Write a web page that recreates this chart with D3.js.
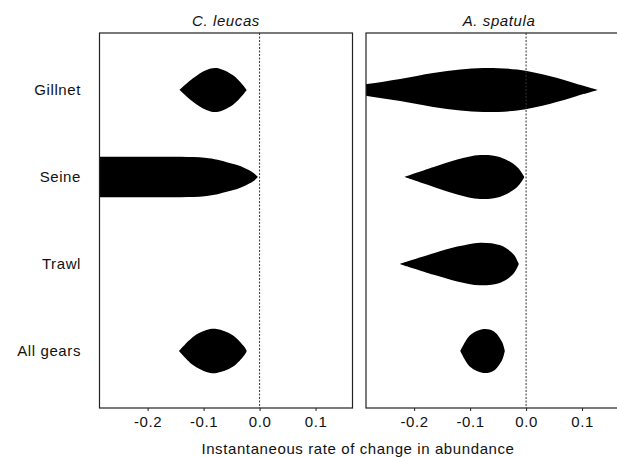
<!DOCTYPE html>
<html>
<head>
<meta charset="utf-8">
<script src="https://cdn.jsdelivr.net/npm/d3@7"></script>
<style>
body{margin:0;background:#fff}
svg{display:block}
text{font-family:"Liberation Sans",Arial,sans-serif;fill:#111;letter-spacing:0.6px}
</style>
</head>
<body>
<svg id="chart" width="617" height="457"></svg>
<script>
// categories and ticks
let gears=["Gillnet","Seine","Trawl","All gears"]
let species=["C. leucas","A. spatula"]
let xTicks=[-0.2,-0.1,0.0,0.1]

// profiles: [rate, relative width]
let leucasGillnet=[[-0.143,0],[-0.119,0.53],[-0.095,0.91],[-0.077,1.0],[-0.048,0.68],[-0.030,0.23],[-0.023,0]]
let leucasSeine=[[-0.34,0.92],[-0.2,0.92],[-0.14,0.915],[-0.098,0.87],[-0.075,0.78],[-0.057,0.66],[-0.04,0.54],[-0.027,0.41],[-0.012,0.21],[-0.003,0]]
let leucasTrawl=[]
let leucasAll=[[-0.144,0],[-0.119,0.64],[-0.095,0.95],[-0.077,1.0],[-0.048,0.72],[-0.027,0.18],[-0.023,0]]

let spatulaGillnet=[[-0.33,0.12],[-0.284,0.27],[-0.225,0.5],[-0.166,0.77],[-0.1175,0.93],[-0.076,1.0],[-0.016,0.93],[0.0435,0.62],[0.091,0.27],[0.128,0]]
let spatulaSeine=[[-0.217,0],[-0.165,0.45],[-0.123,0.79],[-0.082,1.0],[-0.046,0.9],[-0.016,0.46],[-0.003,0]]
let spatulaTrawl=[[-0.226,0],[-0.165,0.49],[-0.123,0.79],[-0.082,0.97],[-0.046,0.85],[-0.023,0.46],[-0.013,0]]
let spatulaAll=[[-0.1175,0],[-0.0996,0.73],[-0.076,1.0],[-0.058,0.9],[-0.043,0.42],[-0.038,0]]

let profiles={
"C. leucas":[leucasGillnet,leucasSeine,leucasTrawl,leucasAll],
"A. spatula":[spatulaGillnet,spatulaSeine,spatulaTrawl,spatulaAll]
}

let svg=d3.select("#chart")
let topY=33,bottomY=408
let panelW=253
let panelX=[99.5,366]
let titleX=[226,499]
let maxHalf=22
let fmt=d=>d3.format(".1f")(d).replace("\u2212","-")

let y=d3.scalePoint().domain(gears).range([topY,bottomY]).padding(0.655)

// gear labels
svg.selectAll(".glab").data(gears).enter().append("text")
.attr("class","glab")
.attr("x",81).attr("y",d=>y(d))
.attr("dy","0.35em")
.attr("text-anchor","end")
.attr("font-size",15)
.text(d=>d)

species.forEach((sp,i)=>{
let x=d3.scaleLinear().domain([-0.286,0.166]).range([panelX[i],panelX[i]+panelW])
let g=svg.append("g")

g.append("clipPath").attr("id","clip"+i)
.append("rect")
.attr("x",panelX[i]).attr("y",topY)
.attr("width",panelW).attr("height",bottomY-topY)

let area=d3.area()
.x(d=>x(d[0]))
.curve(d3.curveCatmullRom.alpha(0.5))

let shapes=g.append("g").attr("clip-path","url(#clip"+i+")")
profiles[sp].forEach((prof,j)=>{
if(prof.length===0) return
let yc=y(gears[j])
shapes.append("path")
.datum(prof)
.attr("d",area.y0(d=>yc-d[1]*maxHalf).y1(d=>yc+d[1]*maxHalf))
.attr("fill","#000")
})

// zero line
g.append("line")
.attr("x1",x(0)).attr("x2",x(0))
.attr("y1",topY).attr("y2",bottomY)
.attr("stroke","#333").attr("stroke-width",1)
.attr("stroke-dasharray","2,1.5")

// frame
g.append("rect")
.attr("x",panelX[i]).attr("y",topY)
.attr("width",panelW).attr("height",bottomY-topY)
.attr("fill","none").attr("stroke","#222").attr("stroke-width",1.2)

let axis=g.append("g")
.attr("transform","translate(0,"+bottomY+")")
.call(d3.axisBottom(x).tickValues(xTicks).tickSize(3).tickPadding(5).tickFormat(fmt))
axis.select(".domain").remove()
axis.selectAll("line").attr("stroke","#222")
axis.selectAll("text").attr("font-size",15).attr("font-family","Liberation Sans, Arial, sans-serif").attr("fill","#111")

g.append("text")
.attr("x",titleX[i]).attr("y",26)
.attr("text-anchor","middle")
.attr("font-size",15)
.attr("font-style","italic")
.text(sp)
})

svg.append("text")
.attr("x",358).attr("y",454)
.attr("text-anchor","middle")
.attr("font-size",15)
.text("Instantaneous rate of change in abundance")
</script>
</body>
</html>
